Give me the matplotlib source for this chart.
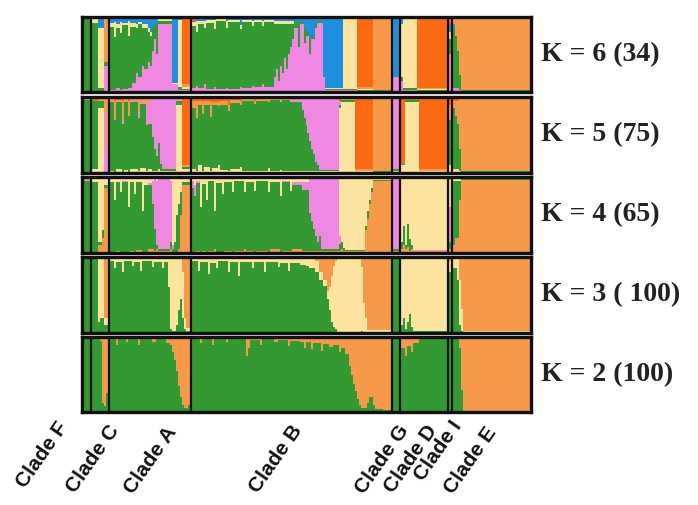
import numpy as np
import matplotlib
matplotlib.use("Agg")
import matplotlib.pyplot as plt

# clade order and number of individuals in each clade
clades = ["F", "C", "A", "B", "G", "D", "I", "E"]
clade_sizes = [5, 9, 41, 101, 4, 24, 2, 39]

cluster_colors = {
    "green": "#339933",
    "orange": "#f7994a",
    "dorange": "#fa6a12",
    "pink": "#ee88e0",
    "blue": "#1e8fdc",
    "yellow": "#fde3a0",
}

# membership runs: (number of individuals, q-values in stacking order bottom -> top)
k2_order = ["green", "orange"]
k2_runs = [
    (5, [.97, .03]),
    (4, [.98, .02]), (1, [.95, .05]), (1, [.12, .88]), (1, [.08, .92]), (1, [.25, .75]), (1, [.9, .1]),
    (3, [.97, .03]), (1, [.9, .1]), (4, [.98, .02]), (1, [.93, .07]), (5, [.97, .03]), (1, [.9, .1]),
    (6, [.98, .02]), (2, [.94, .06]), (5, [.97, .03]), (2, [.92, .08]),
    (1, [.9, .1]), (1, [.8, .2]), (1, [.7, .3]), (1, [.55, .45]), (1, [.35, .65]), (1, [.2, .8]),
    (1, [.1, .9]), (1, [.05, .95]), (1, [.05, .95]), (1, [.1, .9]), (1, [.15, .85]),
    (4, [.97, .03]), (1, [.92, .08]), (5, [.98, .02]), (1, [.9, .1]), (6, [.97, .03]), (1, [.93, .07]),
    (9, [.97, .03]), (1, [.75, .25]), (1, [.85, .15]),
    (5, [.96, .04]), (1, [.9, .1]), (6, [.97, .03]), (2, [.93, .07]), (5, [.96, .04]), (1, [.88, .12]),
    (5, [.95, .05]),
    (2, [.94, .06]), (1, [.86, .14]), (3, [.93, .07]), (1, [.84, .16]), (4, [.92, .08]), (1, [.82, .18]),
    (3, [.91, .09]), (2, [.87, .13]), (3, [.9, .1]), (1, [.8, .2]), (2, [.86, .14]), (2, [.78, .22]),
    (1, [.62, .38]), (1, [.5, .5]), (1, [.38, .62]), (1, [.28, .72]), (1, [.18, .82]), (1, [.1, .9]),
    (3, [.05, .95]), (1, [.12, .88]), (2, [.2, .8]), (1, [.1, .9]), (4, [.04, .96]), (5, [.03, .97]),
    (4, [.99, .01]),
    (2, [.85, .15]), (1, [.75, .25]), (2, [.88, .12]), (1, [.8, .2]), (3, [.92, .08]), (15, [.99, .01]),
    (2, [.97, .03]),
    (3, [.97, .03]), (1, [.85, .15]), (1, [.3, .7]), (34, [.02, .98]),
]

k3_order = ["green", "yellow", "orange"]
k3_runs = [
    (5, [.99, 0, .01]),
    (3, [.97, .03, 0]), (1, [.15, .85, 0]), (2, [.2, .8, 0]), (3, [.1, .1, .8]),
    (2, [.95, .05, 0]), (1, [.85, .15, 0]), (3, [.93, .07, 0]), (1, [.8, .2, 0]), (4, [.95, .05, 0]),
    (1, [.88, .12, 0]), (3, [.93, .05, .02]), (1, [.82, .18, 0]), (5, [.95, .05, 0]), (1, [.87, .13, 0]),
    (4, [.94, .06, 0]), (1, [.85, .15, 0]), (2, [.93, .07, 0]),
    (1, [.6, .4, 0]), (1, [.05, .95, 0]), (2, [.03, .97, 0]), (1, [.1, .9, 0]),
    (1, [.3, .7, 0]), (1, [.45, .55, 0]), (1, [.2, .6, .2]),
    (1, [.05, .15, .8]), (3, [.02, .05, .93]),
    (3, [.95, .05, 0]), (1, [.82, .18, 0]), (4, [.94, .06, 0]), (1, [.78, .22, 0]), (3, [.92, .08, 0]),
    (1, [.85, .15, 0]), (5, [.95, .05, 0]), (1, [.8, .2, 0]), (4, [.93, .07, 0]), (1, [.75, .25, 0]),
    (6, [.94, .06, 0]), (1, [.85, .15, 0]), (5, [.93, .07, 0]), (1, [.8, .2, 0]), (6, [.94, .06, 0]),
    (1, [.87, .13, 0]), (4, [.92, .08, 0]), (1, [.82, .18, 0]), (5, [.92, .08, 0]),
    (3, [.9, .1, 0]), (2, [.88, .1, .02]), (3, [.85, .12, .03]), (2, [.8, .15, .05]), (2, [.7, .1, .2]),
    (2, [.62, .08, .3]), (1, [.45, .1, .45]), (1, [.3, .3, .4]), (1, [.15, .6, .25]), (1, [.08, .8, .12]),
    (1, [.05, .9, .05]), (12, [.01, .97, .02]), (1, [.02, .85, .13]),
    (1, [0, .4, .6]), (1, [0, .2, .8]), (13, [.01, .03, .96]),
    (4, [.97, .02, .01]),
    (1, [.1, .88, .02]), (1, [.2, .78, .02]), (1, [.05, .93, .02]), (1, [.15, .83, .02]),
    (1, [.25, .73, .02]), (1, [.08, .9, .02]), (18, [.02, .96, .02]),
    (2, [.8, .15, .05]),
    (2, [.85, .15, 0]), (1, [.7, .3, 0]), (1, [.1, .6, .3]), (1, [.02, .3, .68]), (34, [.01, .02, .97]),
]

k4_order = ["orange", "green", "pink", "yellow"]
k4_runs = [
    (5, [0, .95, .02, .03]),
    (3, [0, .93, 0, .07]), (2, [.1, .05, 0, .85]), (1, [.2, .1, 0, .7]), (3, [.85, .05, 0, .1]),
    (2, [0, .93, 0, .07]), (1, [0, .7, 0, .3]), (2, [.03, .9, 0, .07]), (1, [0, .8, 0, .2]),
    (3, [0, .93, .02, .05]), (1, [0, .6, 0, .4]), (2, [.02, .92, 0, .06]), (1, [0, .78, 0, .22]),
    (3, [.04, .9, 0, .06]), (1, [0, .55, 0, .45]), (2, [0, .9, 0, .1]), (2, [.05, .85, .02, .08]),
    (1, [.05, .6, .3, .05]), (1, [.02, .3, .65, .03]),
    (1, [.05, .05, .85, .05]), (6, [.03, .02, .92, .03]), (1, [.05, .1, .8, .05]),
    (1, [0, .05, .05, .9]), (1, [0, .15, 0, .85]), (1, [0, .5, 0, .5]), (1, [.05, .6, 0, .35]),
    (1, [.5, .3, 0, .2]), (5, [.9, .03, 0, .07]),
    (1, [0, .85, .1, .05]), (1, [0, .75, .15, .1]), (2, [.02, .9, .03, .05]), (1, [0, .6, 0, .4]),
    (2, [.03, .88, 0, .09]), (1, [0, .7, 0, .3]), (3, [.02, .93, 0, .05]), (1, [.05, .5, 0, .45]),
    (3, [0, .92, 0, .08]), (1, [0, .78, 0, .22]), (4, [.03, .9, 0, .07]), (1, [0, .8, 0, .2]),
    (5, [.02, .93, 0, .05]), (1, [.05, .75, 0, .2]), (4, [.02, .92, 0, .06]), (1, [0, .82, 0, .18]),
    (6, [.03, .92, 0, .05]), (1, [0, .8, 0, .2]), (5, [.05, .88, 0, .07]), (1, [0, .75, 0, .25]),
    (4, [.03, .9, .02, .05]), (1, [.02, .8, 0, .18]), (5, [.05, .85, .03, .07]), (4, [.03, .8, .1, .07]),
    (1, [.02, .5, .45, .03]), (1, [.02, .4, .55, .03]), (1, [.02, .3, .65, .03]), (1, [.02, .2, .75, .03]),
    (1, [.02, .12, .83, .03]), (1, [.03, .2, .74, .03]), (9, [.02, .03, .93, .02]),
    (1, [.02, .1, .1, .78]), (1, [.05, .1, 0, .85]), (1, [.02, .05, 0, .93]), (10, [.02, .02, 0, .96]),
    (1, [.3, .05, 0, .65]), (1, [.45, .1, 0, .45]), (1, [.65, .05, 0, .3]), (1, [.8, .05, 0, .15]),
    (10, [.95, .01, 0, .04]),
    (4, [.02, .03, .93, .02]),
    (1, [.05, .1, 0, .85]), (1, [.1, .25, 0, .65]), (1, [.05, .05, 0, .9]), (1, [.08, .3, 0, .62]),
    (1, [.03, .15, 0, .82]), (1, [.05, .05, 0, .9]), (18, [.02, .01, .01, .96]),
    (2, [.05, .1, .45, .4]),
    (1, [.1, .85, 0, .05]), (2, [.2, .75, 0, .05]), (1, [.7, .25, 0, .05]), (35, [.96, .01, 0, .03]),
]

k5_order = ["yellow", "green", "pink", "orange", "dorange"]
k5_runs = [
    (5, [0, .96, 0, .02, .02]),
    (3, [.05, .9, 0, 0, .05]), (3, [.85, .1, 0, .05, 0]), (1, [0, 0, .8, .2, 0]), (2, [0, 0, .35, .65, 0]),
    (2, [.03, .9, 0, .04, .03]), (1, [0, .7, 0, .25, .05]), (3, [.05, .88, 0, .03, .04]),
    (1, [0, .65, .05, .25, .05]), (2, [.04, .9, 0, .03, .03]), (1, [0, .75, 0, .2, .05]),
    (4, [.05, .88, .02, .02, .03]), (1, [.02, .7, .1, .15, .03]), (3, [.06, .85, .03, .03, .03]),
    (1, [.03, .6, .25, .1, .02]), (2, [.05, .6, .3, .03, .02]),
    (1, [.03, .45, .5, 0, .02]), (1, [.02, .3, .65, 0, .03]), (1, [.02, .2, .75, 0, .03]),
    (1, [.05, .35, .57, 0, .03]), (1, [.02, .1, .85, 0, .03]), (7, [.02, .03, .93, 0, .02]),
    (3, [.9, .05, .02, 0, .03]),
    (5, [.05, .03, 0, .02, .9]),
    (2, [.05, .8, 0, .1, .05]), (1, [.02, .7, 0, .23, .05]), (2, [.1, .8, 0, .05, .05]),
    (1, [.03, .75, 0, .15, .07]), (3, [.08, .82, 0, .05, .05]), (1, [.02, .72, 0, .2, .06]),
    (3, [.06, .84, 0, .04, .06]), (1, [.1, .78, 0, .06, .06]), (4, [.04, .86, 0, .05, .05]),
    (1, [.02, .8, 0, .08, .1]), (5, [.05, .87, 0, .04, .04]), (1, [.08, .82, 0, .05, .05]),
    (6, [.02, .93, 0, .03, .02]), (1, [.03, .88, 0, .04, .05]), (6, [.02, .93, 0, .02, .03]),
    (1, [.06, .88, 0, .03, .03]), (5, [.02, .94, 0, .02, .02]), (1, [.04, .9, .02, .02, .02]),
    (4, [.03, .93, 0, .02, .02]), (2, [.03, .9, .03, .02, .02]), (4, [.03, .9, .04, .01, .02]),
    (1, [.03, .8, .14, .01, .02]), (1, [.03, .7, .25, 0, .02]), (1, [.03, .6, .35, 0, .02]),
    (1, [.02, .5, .46, 0, .02]), (1, [.02, .4, .56, 0, .02]), (1, [.02, .3, .66, 0, .02]),
    (1, [.03, .22, .73, 0, .02]), (1, [.02, .12, .84, 0, .02]), (1, [.02, .08, .88, 0, .02]),
    (10, [.02, .02, .94, 0, .02]),
    (1, [.85, .05, .05, 0, .05]), (7, [.94, .02, 0, .02, .02]),
    (9, [.02, .01, 0, .02, .95]),
    (10, [.01, .01, 0, .96, .02]),
    (4, [.02, .03, .93, 0, .02]),
    (2, [.1, .02, 0, 0, .88]), (7, [.94, .02, 0, 0, .04]), (15, [.02, .01, 0, .02, .95]),
    (2, [.1, .6, .1, .1, .1]),
    (1, [.05, .8, 0, .1, .05]), (1, [.05, .7, 0, .2, .05]), (1, [.05, .6, 0, .3, .05]),
    (1, [.02, .3, 0, .65, .03]), (35, [.01, .01, 0, .96, .02]),
]

k6_order = ["pink", "green", "yellow", "blue", "orange", "dorange"]
k6_runs = [
    (5, [0, .97, 0, .03, 0, 0]),
    (3, [0, .92, .05, .03, 0, 0]), (3, [0, .05, .8, .15, 0, 0]), (3, [.35, .05, 0, 0, .6, 0]),
    (2, [.02, .85, .05, .08, 0, 0]), (1, [.03, .7, .2, .07, 0, 0]), (2, [.05, .8, .05, .1, 0, 0]),
    (1, [.03, .75, .15, .07, 0, 0]), (3, [.04, .85, .03, .08, 0, 0]), (1, [.05, .7, .2, .05, 0, 0]),
    (1, [.05, .82, .05, .08, 0, 0]),
    (2, [.12, .75, .05, .08, 0, 0]), (1, [.25, .6, .05, .1, 0, 0]), (2, [.2, .7, .03, .07, 0, 0]),
    (1, [.35, .5, .05, .1, 0, 0]), (2, [.3, .55, .05, .1, 0, 0]), (1, [.4, .4, .05, .15, 0, 0]),
    (1, [.35, .4, .05, .2, 0, 0]),
    (1, [.55, .3, 0, .15, 0, 0]), (1, [.7, .2, 0, .1, 0, 0]), (1, [.5, .4, 0, .1, 0, 0]),
    (7, [.9, .05, .02, .03, 0, 0]),
    (3, [.1, 0, .02, .88, 0, 0]),
    (2, [.03, .03, .9, .04, 0, 0]),
    (5, [.02, .02, .02, 0, .04, .9]),
    (2, [.05, .83, .05, .02, 0, .05]), (1, [.08, .72, .15, .05, 0, 0]), (3, [.05, .85, .05, .05, 0, 0]),
    (1, [.1, .75, .1, .05, 0, 0]), (4, [.04, .88, .04, .04, 0, 0]), (1, [.06, .78, .12, .04, 0, 0]),
    (5, [.04, .9, .03, .03, 0, 0]), (1, [.05, .8, .1, .05, 0, 0]), (6, [.04, .89, .03, .04, 0, 0]),
    (1, [.06, .78, .06, .1, 0, 0]), (5, [.05, .88, .03, .04, 0, 0]), (1, [.08, .8, .07, .05, 0, 0]),
    (4, [.06, .87, .03, .04, 0, 0]), (1, [.1, .78, .06, .06, 0, 0]), (5, [.07, .86, .03, .04, 0, 0]),
    (1, [.2, .7, .05, .05, 0, 0]), (1, [.3, .6, .05, .05, 0, 0]), (1, [.15, .75, .05, .05, 0, 0]),
    (1, [.35, .55, .05, .05, 0, 0]), (1, [.25, .65, .05, .05, 0, 0]), (1, [.45, .45, .05, .05, 0, 0]),
    (1, [.3, .6, .05, .05, 0, 0]), (1, [.5, .4, .05, .05, 0, 0]), (1, [.6, .3, .05, .05, 0, 0]),
    (1, [.7, .2, .05, .05, 0, 0]),
    (2, [.85, .1, 0, .05, 0, 0]), (1, [.6, .3, 0, .1, 0, 0]), (2, [.9, .05, 0, .05, 0, 0]),
    (1, [.65, .2, 0, .15, 0, 0]), (2, [.75, .05, 0, .2, 0, 0]), (1, [.5, .2, 0, .3, 0, 0]),
    (2, [.7, .05, 0, .25, 0, 0]), (1, [.85, .05, 0, .1, 0, 0]), (3, [.92, .03, 0, .05, 0, 0]),
    (1, [.2, .02, 0, .78, 0, 0]), (9, [.03, .01, .01, .95, 0, 0]),
    (7, [.02, .02, .93, .03, 0, 0]),
    (8, [.01, .01, .02, 0, .02, .94]),
    (10, [.01, .01, .01, 0, .95, .02]),
    (4, [.2, 0, 0, .8, 0, 0]),
    (1, [.15, .05, .7, .1, 0, 0]), (7, [.03, .02, .93, .02, 0, 0]), (16, [.01, .01, .02, 0, .01, .95]),
    (2, [.5, .2, .1, .1, 0, .1]),
    (1, [.05, .8, 0, .05, .1, 0]), (1, [.05, .7, 0, 0, .25, 0]), (1, [.05, .5, 0, 0, .45, 0]),
    (1, [.02, .2, 0, 0, .78, 0]), (35, [.01, .01, .01, 0, .97, 0]),
]

k_labels = ["K = 6 (34)", "K = 5 (75)", "K = 4 (65)", "K = 3 ( 100)", "K = 2 (100)"]
panels = [(k6_order, k6_runs), (k5_order, k5_runs), (k4_order, k4_runs),
          (k3_order, k3_runs), (k2_order, k2_runs)]


def expand(runs):
    q = []
    for n, vals in runs:
        q.extend([vals] * n)
    q = np.array(q, dtype=float)
    return q / q.sum(axis=1, keepdims=True)


W, H = 698, 505
fig = plt.figure(figsize=(W / 100, H / 100), dpi=100)

# panel rows in pixels (top, bottom)
rows = [(17, 92), (97, 173), (177, 253), (257, 333), (337, 412)]
x0, x1 = 82, 531
n_ind = sum(clade_sizes)
bounds = np.cumsum(clade_sizes)[:-1]

for (top, bot), (order, runs), lab in zip(rows, panels, k_labels):
    ax = fig.add_axes([x0 / W, 1 - bot / H, (x1 - x0) / W, (bot - top) / H])
    q = expand(runs)
    xs = np.arange(len(q))
    bottom = np.zeros(len(q))
    for j, name in enumerate(order):
        ax.bar(xs, q[:, j], width=1.0, bottom=bottom, align="edge",
               color=cluster_colors[name], linewidth=0)
        bottom += q[:, j]
    for b in bounds:
        ax.axvline(b - 0.5, color="#111111", lw=1.6)
    ax.set_xlim(0, n_ind)
    ax.set_ylim(0, 1)
    ax.set_xticks([])
    ax.set_yticks([])
    for sp in ax.spines.values():
        sp.set_linewidth(2.4)
        sp.set_color("#111111")
    fig.text(541 / W, 1 - ((top + bot) / 2) / H, lab, fontsize=20, fontweight="bold",
             family="Liberation Serif", ha="left", va="center", color="#222222")

# clade names under the bottom panel
label_pos = {"F": (64, 424), "C": (115, 427), "A": (173, 429), "B": (298, 427),
             "G": (405, 427), "D": (433, 427), "I": (458, 423), "E": (493, 429)}
for c in clades:
    px, py = label_pos[c]
    fig.text(px / W, 1 - py / H, "Clade " + c, rotation=55, rotation_mode="anchor",
             ha="right", va="center", fontsize=15, fontweight="bold",
             family="Liberation Sans", color="#111111")

fig.savefig("out.png", dpi=100)
